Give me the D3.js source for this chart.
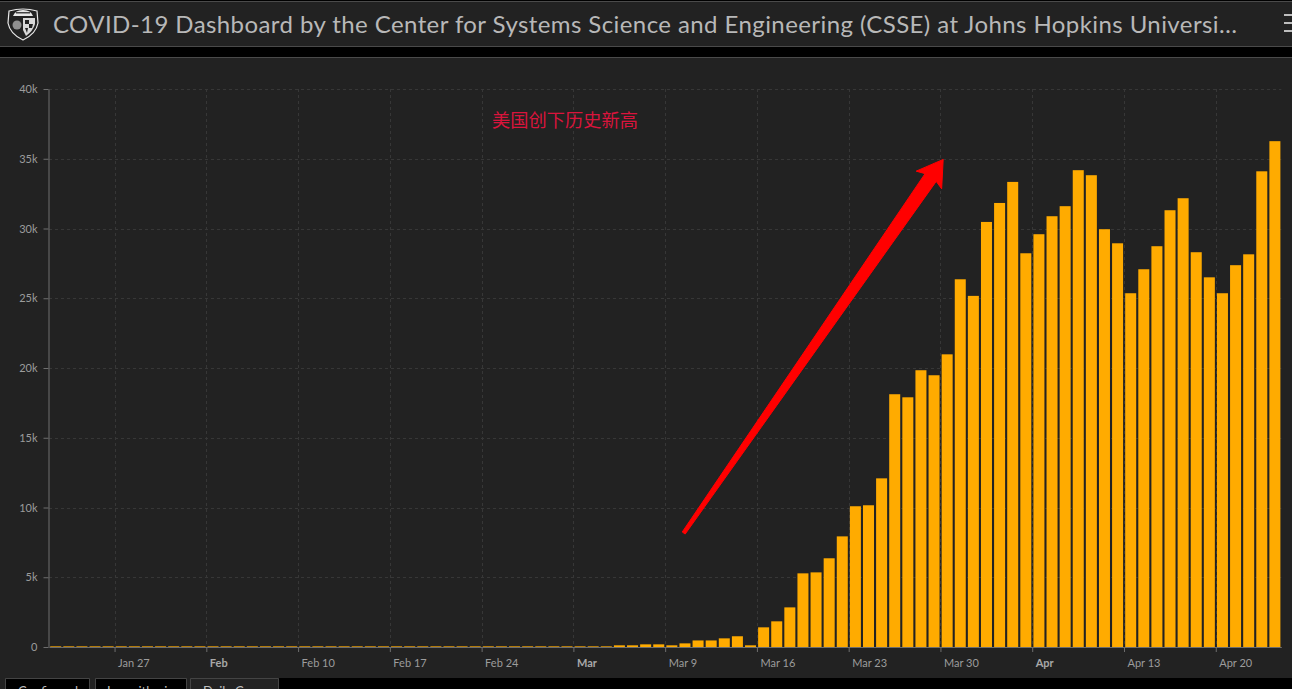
<!DOCTYPE html>
<html>
<head>
<meta charset="utf-8">
<script src="https://cdn.jsdelivr.net/npm/d3@7"></script>
<style>
  html, body { margin: 0; padding: 0; background: #000; overflow: hidden; }
  svg { display: block; }
  .tick text { font-family: Lato, "Open Sans", sans-serif; font-size: 11px; fill: #9c9c9c; }
  .tick text.bold { font-weight: 700; fill: #a8a8a8; }
  .domain, .tick line { stroke: #6e6e6e; }
</style>
</head>
<body>
<svg id="chart" width="1292" height="689"></svg>
<script>
const titleText = 'COVID-19 Dashboard by the Center for Systems Science and Engineering (CSSE) at Johns Hopkins Universi…';
const noteText = '美国创下历史新高';
const tabLabels = ['Confirmed', 'Logarithmic', 'Daily Cases'];

const firstDay = new Date(2020, 0, 22);
// daily new cases, Jan 22 to Apr 24
const lateJan = [1, 0, 1, 0, 3, 0, 0, 0, 1, 1];
const february = [1, 0, 3, 0, 0, 0, 0, 0, 1, 0, 1, 0, 1, 0, 0, 0, 0, 0, 0, 0, 3, 2, 1, 3, 2, 1, 2, 5, 8];
const march = [10, 20, 30, 25, 120, 120, 190, 190, 120, 260, 470, 470, 620, 770, 120, 1410, 1840, 2840, 5280, 5350,
  6360, 7930, 10090, 10160, 12090, 18120, 17900, 19840, 19480, 20980, 26360];
const april = [25170, 30470, 31830, 33340, 28225, 29590, 30880, 31600, 34180, 33820, 29950, 28940, 25360, 27080,
  28730, 31310, 32170, 28300, 26500, 25360, 27370, 28150, 34100, 36260];
const dailyCases = [...lateJan, ...february, ...march, ...april];
const yTicks = [0, 5000, 10000, 15000, 20000, 25000, 30000, 35000, 40000];

// arrow annotation as [date, value]
const arrowFrom = [new Date(2020, 2, 10, 10), 8170];
const arrowTo = [new Date(2020, 2, 30, 5), 34950];

const width = 1292;
const height = 689;
const left = 49;
const right = 1281.3;
const top_ = 89;
const bottom = 647;

const days = dailyCases.map((value, i) => ({ date: d3.timeDay.offset(firstDay, i), value }));

const x = d3.scaleTime()
  .domain([firstDay, d3.timeDay.offset(firstDay, dailyCases.length)])
  .range([left, right]);
const y = d3.scaleLinear().domain([0, 40000]).range([bottom, top_]);

const svg = d3.select('#chart');

// page frame
svg.append('rect').attr('width', width).attr('height', height).attr('fill', '#000');
svg.append('rect').attr('x', 0).attr('y', 1).attr('width', width).attr('height', 46).attr('fill', '#222');
svg.append('line').attr('x1', 0).attr('x2', width).attr('y1', 1.5).attr('y2', 1.5).attr('stroke', '#4a4a4a');
svg.append('line').attr('x1', 0).attr('x2', width).attr('y1', 46.5).attr('y2', 46.5).attr('stroke', '#4a4a4a');
svg.append('rect').attr('x', 0).attr('y', 57).attr('width', width).attr('height', 621).attr('fill', '#222');
svg.append('line').attr('x1', 0).attr('x2', width).attr('y1', 57.5).attr('y2', 57.5).attr('stroke', '#4a4a4a');

// shield logo
const logo = svg.append('g').attr('transform', 'translate(8,8)');
logo.append('path')
  .attr('d', 'M1,3 Q15,-1 29,3 L30,15 Q28,26 15,32 Q2,26 0,15 Z')
  .attr('fill', '#222').attr('stroke', '#e8e8e8').attr('stroke-width', 1.2);
logo.append('path').attr('d', 'M5,8 Q7,2 15,2 Q23,2 25,8 Z').attr('fill', '#e8e8e8');
logo.append('rect').attr('x', 8).attr('y', 4).attr('width', 14).attr('height', 1.5).attr('fill', '#444');
logo.append('circle').attr('cx', 9).attr('cy', 17).attr('r', 4.5).attr('fill', '#8f8f8f');
logo.append('path').attr('d', 'M15,10 L27,10 L27,16 Q25,23 18,28 L15,22 Z').attr('fill', '#d8d8d8');
logo.append('path').attr('d', 'M17,12 L21,12 L21,16 L17,16 Z M21,16 L25,16 L24,20 L21,20 Z M17,20 L20,20 L19,25 Z').attr('fill', '#222');

svg.append('text')
  .attr('x', 53).attr('y', 32.5)
  .attr('font-family', 'Lato, "Open Sans", sans-serif')
  .attr('font-size', 24)
  .attr('fill', '#b8b8b8')
  .attr('textLength', 1184)
  .attr('lengthAdjust', 'spacing')
  .text(titleText);

// menu icon, cut off by the window edge
svg.append('g').selectAll('line')
  .data([15, 23, 31])
  .join('line')
  .attr('x1', 1284).attr('x2', width)
  .attr('y1', (d) => d).attr('y2', (d) => d)
  .attr('stroke', '#bdbdbd').attr('stroke-width', 2);

// grid
const mondays = d3.timeMonday.range(firstDay, x.domain()[1]);
const grid = svg.append('g').attr('stroke', '#373737').attr('stroke-dasharray', '3,3');
grid.selectAll('line.h')
  .data(yTicks.slice(1))
  .join('line')
  .attr('class', 'h')
  .attr('x1', left).attr('x2', right)
  .attr('y1', (d) => Math.round(y(d)) + 0.5).attr('y2', (d) => Math.round(y(d)) + 0.5);
grid.selectAll('line.v')
  .data(mondays)
  .join('line')
  .attr('class', 'v')
  .attr('y1', top_).attr('y2', bottom)
  .attr('x1', (d) => Math.round(x(d)) + 0.5).attr('x2', (d) => Math.round(x(d)) + 0.5);

// bars
svg.append('g')
  .attr('fill', '#ffab00')
  .selectAll('rect')
  .data(days)
  .join('rect')
  .attr('x', (d) => x(d.date) + 1.2)
  .attr('width', (d) => x(d3.timeDay.offset(d.date, 1)) - x(d.date) - 2.1)
  .attr('y', (d) => Math.min(y(d.value), bottom - 1))
  .attr('height', (d) => Math.max(bottom - y(d.value), 1))
  .attr('fill-opacity', (d) => (d.value < 70 ? 0.65 : 1));

// axes
const isMonthTick = (d) => d.getDate() <= 7;
const formatTick = (d) => (isMonthTick(d) ? d3.timeFormat('%b')(d) : d3.timeFormat('%b %-d')(d));

const xAxis = svg.append('g')
  .attr('transform', `translate(0,${bottom})`)
  .call(d3.axisBottom(x).tickValues(mondays).tickFormat(formatTick).tickSize(5).tickSizeOuter(0));
xAxis.select('.domain').attr('stroke', '#5a5a5a');
xAxis.selectAll('.tick text')
  .attr('text-anchor', 'start')
  .attr('dx', 3)
  .attr('y', 12)
  .classed('bold', (d) => isMonthTick(d));

const yAxis = svg.append('g')
  .attr('transform', `translate(${Math.floor(left) - 0.5},0)`)
  .call(d3.axisLeft(y).tickValues(yTicks).tickFormat((d) => (d ? `${d / 1000}k` : '0')).tickSize(5).tickSizeOuter(0));
yAxis.selectAll('.tick text').attr('x', -11);

// hand drawn arrow
const ax = x(arrowFrom[0]);
const ay = y(arrowFrom[1]);
const bx = x(arrowTo[0]);
const by = y(arrowTo[1]);
const len = Math.hypot(bx - ax, by - ay);
const ux = (bx - ax) / len;
const uy = (by - ay) / len;
const at = (along, across) => [bx - ux * along - uy * across, by - uy * along + ux * across];
svg.append('path')
  .attr('fill', '#ff0000')
  .attr('stroke', '#ff0000')
  .attr('stroke-width', 1)
  .attr('stroke-linejoin', 'round')
  .attr('d', d3.line()([
    at(0, 0), at(25, 15.5), at(22, 6.8),
    at(len, 1.8), at(len, -1.8),
    at(22, -6.8), at(25, -15.5),
  ]) + 'Z');

svg.append('text')
  .attr('x', 492)
  .attr('y', 126.5)
  .attr('font-family', '"Noto Sans CJK SC", sans-serif')
  .attr('font-size', 18.25)
  .attr('fill', '#d9143c')
  .text(noteText);

// tabs along the bottom, cut off by the window edge as in the source screenshot
const tabEdges = [[6, 89, '#000', 18], [96, 186, '#000', 107], [191, 278, '#222', 203]];
svg.append('rect').attr('x', 0).attr('y', 678).attr('width', 279).attr('height', 11).attr('fill', '#222');
const tabs = svg.append('g').selectAll('g').data(tabEdges).join('g');
tabs.append('rect')
  .attr('x', (d) => d[0]).attr('y', 678)
  .attr('width', (d) => d[1] - d[0]).attr('height', 11)
  .attr('fill', (d) => d[2]);
tabs.append('path')
  .attr('d', (d) => `M${d[0] - 0.5},689V678.5H${d[1] + 0.5}V689`)
  .attr('fill', 'none').attr('stroke', '#444');
tabs.append('text')
  .attr('x', (d) => d[3])
  .attr('y', 696)
  .attr('font-family', 'Lato, "Open Sans", sans-serif')
  .attr('font-size', 13)
  .attr('fill', '#bdbdbd')
  .text((d, i) => tabLabels[i]);
</script>
</body>
</html>
